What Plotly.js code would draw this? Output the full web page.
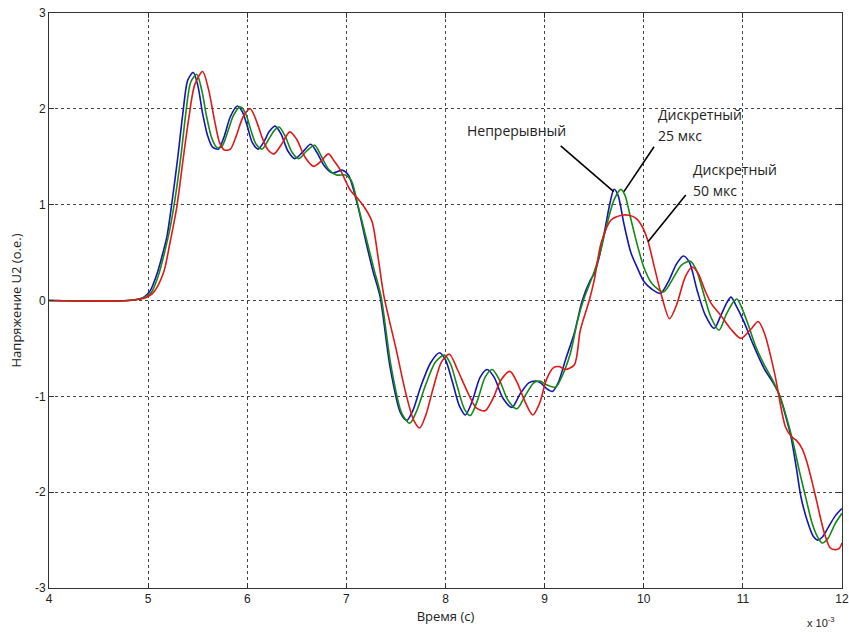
<!DOCTYPE html>
<html>
<head>
<meta charset="utf-8">
<script src="https://cdn.plot.ly/plotly-3.0.1.min.js"></script>
<style>
html,body{margin:0;padding:0;background:#fff;}
#chart{width:849px;height:632px;}
</style>
</head>
<body>
<div id="chart"></div>
<script>
// Time in units of 1e-3 s
const contX = [4.0,4.8,4.95,5.02,5.09,5.15,5.19,5.24,5.30,5.35,5.40,5.455,5.50,5.55,5.60,5.65,5.71,5.77,5.83,5.90,5.95,6.00,6.05,6.11,6.17,6.22,6.28,6.34,6.41,6.48,6.56,6.64,6.70,6.78,6.86,6.96,7.02,7.11,7.20,7.27,7.34,7.44,7.545,7.61,7.67,7.75,7.85,7.94,8.00,8.07,8.14,8.20,8.27,8.35,8.42,8.49,8.58,8.67,8.75,8.84,8.91,8.96,9.02,9.08,9.14,9.21,9.30,9.38,9.46,9.50,9.55,9.61,9.66,9.70,9.74,9.80,9.87,9.94,10.00,10.08,10.17,10.25,10.33,10.40,10.46,10.54,10.62,10.71,10.78,10.84,10.88,10.93,11.01,11.10,11.215,11.30,11.37,11.43,11.485,11.54,11.586,11.65,11.71,11.755,11.80,11.86,11.93,12.0];
const contY = [0,0,0.03,0.1,0.28,0.5,0.67,1.02,1.5,1.95,2.3,2.38,2.25,1.95,1.72,1.6,1.58,1.72,1.92,2.03,1.97,1.82,1.65,1.58,1.66,1.76,1.82,1.74,1.56,1.48,1.55,1.63,1.55,1.40,1.33,1.36,1.31,1.01,0.6,0.3,0.04,-0.69,-1.17,-1.25,-1.15,-0.9,-0.65,-0.545,-0.62,-0.85,-1.1,-1.195,-1.05,-0.8,-0.72,-0.8,-1.02,-1.115,-0.98,-0.86,-0.84,-0.86,-0.92,-0.95,-0.85,-0.62,-0.34,0,0.21,0.28,0.45,0.75,1.02,1.16,1.10,0.8,0.5,0.33,0.2,0.12,0.075,0.2,0.38,0.465,0.4,0.1,-0.15,-0.29,-0.15,-0.02,0.035,-0.05,-0.22,-0.45,-0.71,-0.85,-0.99,-1.2,-1.42,-1.75,-2.05,-2.3,-2.46,-2.50,-2.47,-2.37,-2.25,-2.17];

const d25X = [4.0,4.8,4.95,5.03,5.10,5.17,5.22,5.27,5.33,5.38,5.43,5.49,5.54,5.59,5.64,5.69,5.74,5.80,5.86,5.93,5.98,6.03,6.09,6.15,6.21,6.27,6.32,6.38,6.45,6.52,6.60,6.68,6.74,6.82,6.90,6.99,7.05,7.12,7.20,7.28,7.35,7.45,7.56,7.64,7.71,7.80,7.90,7.99,8.05,8.12,8.19,8.25,8.32,8.40,8.47,8.54,8.63,8.72,8.80,8.89,8.95,9.02,9.11,9.18,9.26,9.33,9.39,9.50,9.56,9.63,9.70,9.77,9.81,9.87,9.93,10.00,10.08,10.20,10.29,10.38,10.47,10.53,10.61,10.68,10.76,10.83,10.90,10.94,10.99,11.06,11.13,11.22,11.30,11.37,11.44,11.50,11.57,11.64,11.70,11.76,11.80,11.86,11.93,12.0];
const d25Y = [0,0,0.03,0.08,0.25,0.52,0.75,1.05,1.5,1.95,2.28,2.36,2.2,1.92,1.7,1.6,1.6,1.75,1.93,2.02,1.96,1.8,1.63,1.58,1.67,1.77,1.81,1.72,1.55,1.48,1.56,1.62,1.52,1.37,1.31,1.31,1.25,0.98,0.65,0.32,0.04,-0.68,-1.18,-1.28,-1.15,-0.88,-0.64,-0.57,-0.66,-0.9,-1.13,-1.2,-1.05,-0.8,-0.72,-0.82,-1.04,-1.13,-1.0,-0.86,-0.84,-0.88,-0.905,-0.78,-0.55,-0.22,0,0.3,0.5,0.8,1.05,1.16,1.1,0.85,0.6,0.35,0.18,0.09,0.22,0.37,0.41,0.32,0.05,-0.18,-0.31,-0.15,-0.02,0.015,-0.08,-0.27,-0.48,-0.68,-0.83,-0.99,-1.22,-1.45,-1.78,-2.08,-2.33,-2.48,-2.53,-2.48,-2.33,-2.22];

const d50X = [4.0,4.8,4.95,5.05,5.155,5.22,5.29,5.35,5.41,5.47,5.55,5.61,5.67,5.72,5.77,5.83,5.89,5.96,6.03,6.09,6.15,6.21,6.27,6.34,6.43,6.50,6.58,6.67,6.75,6.82,6.88,6.94,7.04,7.11,7.19,7.26,7.32,7.38,7.50,7.60,7.68,7.74,7.80,7.88,7.96,8.04,8.12,8.22,8.31,8.40,8.48,8.56,8.65,8.72,8.80,8.88,8.95,9.02,9.09,9.15,9.21,9.30,9.36,9.45,9.50,9.57,9.67,9.78,9.85,9.92,9.98,10.04,10.10,10.18,10.26,10.33,10.42,10.49,10.55,10.62,10.68,10.78,10.88,10.98,11.08,11.155,11.22,11.32,11.43,11.49,11.54,11.60,11.65,11.70,11.75,11.82,11.88,11.93,11.97,12.0];
const d50Y = [0,0,0.02,0.08,0.29,0.6,0.98,1.45,1.9,2.25,2.39,2.2,1.88,1.65,1.57,1.58,1.72,1.92,2.0,1.88,1.7,1.57,1.53,1.62,1.76,1.68,1.5,1.40,1.46,1.53,1.45,1.36,1.15,1.07,0.96,0.82,0.45,0.04,-0.5,-0.97,-1.25,-1.33,-1.2,-0.9,-0.64,-0.56,-0.72,-0.95,-1.12,-1.15,-1.02,-0.83,-0.74,-0.85,-1.05,-1.195,-1.07,-0.82,-0.70,-0.69,-0.72,-0.67,-0.31,0,0.21,0.6,0.84,0.89,0.89,0.86,0.78,0.63,0.38,0.05,-0.19,-0.05,0.25,0.35,0.28,0.1,-0.03,-0.16,-0.3,-0.395,-0.3,-0.22,-0.35,-0.76,-1.32,-1.42,-1.46,-1.55,-1.70,-1.9,-2.12,-2.42,-2.58,-2.6,-2.59,-2.53];

const xTicks = [4,5,6,7,8,9,10,11,12];
const yTicks = [-3,-2,-1,0,1,2,3];

const lineOpts = {shape:'spline', smoothing:0.8, width:1.6};
const traces = [
  {x:contX, y:contY, mode:'lines', line:Object.assign({color:'#1414b4'}, lineOpts), name:'Непрерывный'},
  {x:d25X, y:d25Y, mode:'lines', line:Object.assign({color:'#148a14'}, lineOpts), name:'Дискретный 25 мкс'},
  {x:d50X, y:d50Y, mode:'lines', line:Object.assign({color:'#e01818'}, lineOpts), name:'Дискретный 50 мкс'}
];

const titleFont = {family:'Open Sans, Noto Sans, sans-serif', size:13, color:'#222'};
const annFont = {family:'Open Sans, Noto Sans, sans-serif', size:14, color:'#222'};
const layout = {
  width:849, height:632,
  margin:{l:49, r:7, t:13, b:44},
  paper_bgcolor:'#fff', plot_bgcolor:'#fff',
  showlegend:false,
  font:{family:'Liberation Sans, Arial, sans-serif', size:12, color:'#222'},
  xaxis:{
    range:[4,12], tickvals:xTicks, ticktext:xTicks.map(String),
    showgrid:true, gridcolor:'#444', griddash:'dot', gridwidth:1,
    showline:true, linecolor:'#333', linewidth:1, mirror:'ticks',
    ticks:'inside', ticklen:5, tickcolor:'#333', zeroline:false,
    title:{text:'Время (с)', font:titleFont, standoff:6}
  },
  yaxis:{
    range:[-3,3], tickvals:yTicks, ticktext:yTicks.map(String),
    showgrid:true, gridcolor:'#444', griddash:'dot', gridwidth:1,
    showline:true, linecolor:'#333', linewidth:1, mirror:'ticks',
    ticks:'inside', ticklen:5, tickcolor:'#333', zeroline:false,
    title:{text:'Напряжение U2 (о.е.)', font:titleFont, standoff:10}
  },
  annotations:[
    {x:8.717, y:1.77, xref:'x', yref:'y', text:'Непрерывный', showarrow:false, font:annFont, xanchor:'center', yanchor:'middle'},
    {x:10.12, y:1.945, xref:'x', yref:'y', text:'Дискретный', showarrow:false, font:annFont, xanchor:'left', yanchor:'middle'},
    {x:10.12, y:1.726, xref:'x', yref:'y', text:'25 мкс', showarrow:false, font:annFont, xanchor:'left', yanchor:'middle'},
    {x:10.475, y:1.362, xref:'x', yref:'y', text:'Дискретный', showarrow:false, font:annFont, xanchor:'left', yanchor:'middle'},
    {x:10.475, y:1.153, xref:'x', yref:'y', text:'50 мкс', showarrow:false, font:annFont, xanchor:'left', yanchor:'middle'},
    {x:1, y:0, xref:'paper', yref:'paper', xshift:-21, yshift:-34, text:'x 10<sup>-3</sup>', showarrow:false, font:{family:'Liberation Sans, Arial, sans-serif', size:11, color:'#222'}, xanchor:'center', yanchor:'middle'}
  ],
  shapes:[
    {type:'line', xref:'x', yref:'y', x0:9.162, y0:1.613, x1:9.697, y1:1.136, line:{color:'#000', width:1.6}},
    {type:'line', xref:'x', yref:'y', x0:10.104, y0:1.605, x1:9.80, y1:1.136, line:{color:'#000', width:1.6}},
    {type:'line', xref:'x', yref:'y', x0:10.424, y0:1.10, x1:10.043, y1:0.614, line:{color:'#000', width:1.6}}
  ]
};
Plotly.newPlot('chart', traces, layout, {displayModeBar:false, staticPlot:true});
</script>
</body>
</html>
